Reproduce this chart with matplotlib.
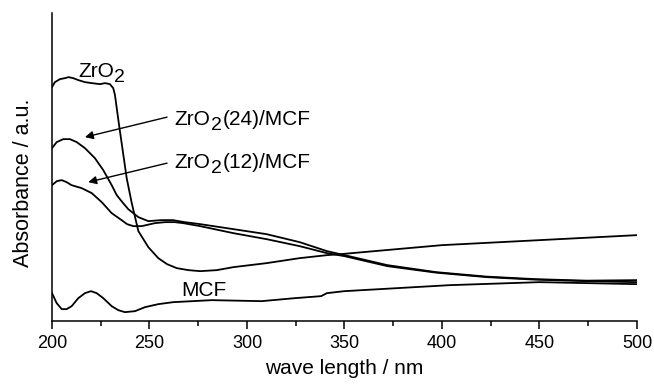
import matplotlib
matplotlib.use("Agg")
import matplotlib.pyplot as plt
from matplotlib.ticker import MultipleLocator

plt.rcParams["font.family"] = ["Liberation Sans", "DejaVu Sans"]

wl_zro2 = [200, 201.5, 204.1, 206.7, 208.4, 210.9, 213.5, 216.9, 220.4, 224.6, 227.2,
           229.7, 231.4, 232.3, 233.2, 234.4, 236.1, 238.3, 240.9, 244.3, 249.4,
           254.5, 259, 264, 270, 276, 284.5, 293, 310, 327, 341, 348, 400, 450, 500]
abs_zro2 = [2.34, 2.39, 2.42, 2.43, 2.44, 2.43, 2.41, 2.39, 2.38, 2.37, 2.38,
            2.37, 2.33, 2.26, 2.13, 1.96, 1.73, 1.43, 1.18, 0.90, 0.74,
            0.63, 0.57, 0.53, 0.51, 0.50, 0.51, 0.54, 0.58, 0.63, 0.66, 0.67, 0.76,
            0.81, 0.86]

wl_24 = [200, 202.4, 205.8, 209.2, 212.7, 216.9, 222, 226.3, 230.6, 233.2, 236.5,
         239.1, 244.3, 249.4, 256, 262, 268, 276, 293, 310, 327, 341, 350, 372, 397,
         423, 448, 474, 500]
abs_24 = [1.73, 1.79, 1.82, 1.82, 1.79, 1.73, 1.63, 1.51, 1.36, 1.26, 1.18,
          1.12, 1.04, 1.00, 1.01, 1.01, 0.99, 0.97, 0.92, 0.87, 0.79, 0.70, 0.66,
          0.56, 0.49, 0.445, 0.42, 0.405, 0.41]

wl_12 = [200, 202.5, 205, 207.5, 210, 215.2, 220.4, 225.5, 230.6, 235.7, 238.5,
         241.7, 246, 252.8, 258, 263, 267.3, 276, 293, 310, 327, 341, 350, 372, 397,
         423, 448, 474, 500]
abs_12 = [1.36, 1.40, 1.41, 1.39, 1.36, 1.33, 1.28, 1.19, 1.08, 1.01, 0.97,
          0.95, 0.95, 0.98, 0.99, 0.99, 0.98, 0.95, 0.88, 0.82, 0.75, 0.68, 0.65,
          0.55, 0.485, 0.44, 0.415, 0.40, 0.39]

wl_mcf = [200, 202.4, 205, 207.5, 210.1, 213.5, 216.9, 220, 222.9, 226.3, 230.6, 234,
          237.4, 242.6, 247.7, 254.5, 262.2, 281.9, 307.5, 324.6, 338, 341, 350, 404,
          450, 500]
abs_mcf = [0.28, 0.18, 0.12, 0.12, 0.15, 0.23, 0.28, 0.30, 0.28, 0.23, 0.15, 0.11,
           0.09, 0.10, 0.14, 0.17, 0.19, 0.21, 0.20, 0.23, 0.25, 0.28, 0.30, 0.36,
           0.39, 0.37]

fig = plt.figure(figsize=(6.54, 3.86), dpi=100)
ax = fig.add_axes([0.0795, 0.168, 0.8945, 0.798])

for x, y in [(wl_zro2, abs_zro2), (wl_24, abs_24), (wl_12, abs_12), (wl_mcf, abs_mcf)]:
    ax.plot(x, y, color="black", lw=1.3)

ax.set_xlim(200, 500)
ax.set_ylim(0, 3.08)
ax.spines["top"].set_visible(False)
ax.spines["right"].set_visible(False)
ax.spines["left"].set_linewidth(1.1)
ax.spines["bottom"].set_linewidth(1.1)
ax.set_yticks([])
ax.xaxis.set_major_locator(MultipleLocator(50))
ax.xaxis.set_minor_locator(MultipleLocator(25))
ax.tick_params(axis="x", which="major", direction="out", length=6, width=1.1,
               labelsize=13, pad=4)
ax.tick_params(axis="x", which="minor", direction="out", length=3.5, width=1.1)

ax.set_xlabel("wave length / nm", fontsize=15, labelpad=5)
ax.set_ylabel("Absorbance / a.u.", fontsize=15.5)
ax.yaxis.set_label_coords(-0.03, 0.45)


# ZrO mit grossem, tiefgestelltem 2 wie im original
def zro2_text(x, y, rest=""):
    t1 = ax.text(x, y, "ZrO", fontsize=15, va="baseline")
    t2 = ax.annotate("2", xy=(1, 0), xycoords=t1, xytext=(0.5, -3.5),
                     textcoords="offset points", fontsize=14, va="bottom")
    if rest:
        ax.annotate(rest, xy=(1, 0), xycoords=t2, xytext=(0, 3.5),
                    textcoords="offset points", fontsize=15, va="bottom")


zro2_text(213.3, 2.44)
zro2_text(263, 1.96, "(24)/MCF")
zro2_text(263, 1.53, "(12)/MCF")
ax.text(266.5, 0.25, "MCF", fontsize=15, va="baseline")

pfeil = dict(arrowstyle="-|>", color="black", lw=1.0, mutation_scale=12,
             shrinkA=0, shrinkB=0)
ax.annotate("", xy=(216.9, 1.84), xytext=(259, 2.04), arrowprops=pfeil)
ax.annotate("", xy=(218.6, 1.39), xytext=(259, 1.58), arrowprops=pfeil)

fig.savefig("out.png", dpi=100)
